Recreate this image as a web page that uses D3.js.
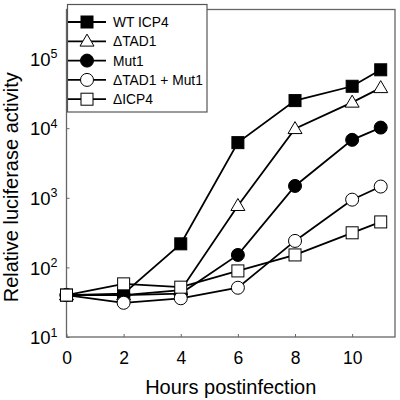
<!DOCTYPE html>
<html><head><meta charset="utf-8">
<script src="https://cdn.jsdelivr.net/npm/d3@7"></script>
<style>body{margin:0;background:#fff;} svg{display:block;font-family:"Liberation Sans",Arial,sans-serif;}</style>
</head><body><svg id="c" width="400" height="400"></svg>
<script>
const hours = [0, 2, 4, 6, 8, 10, 11];
const wtICP4 = [40, 42, 218, 6200, 24900, 40000, 69000];
const dTAD1 = [40, 40, 47, 770, 9800, 23500, 38000];
const mut1 = [40, 40, 42, 151, 1480, 6800, 10200];
const dTAD1Mut1 = [40, 31, 36, 51, 240, 940, 1450];
const dICP4 = [40, 58, 52, 89, 151, 314, 450];
const seriesNames = ["WT ICP4", "\u0394TAD1", "Mut1", "\u0394TAD1 + Mut1", "\u0394ICP4"];
const xTicks = [0, 2, 4, 6, 8, 10];
const yTickExps = [1, 2, 3, 4, 5];

const series = [
  {name: seriesNames[0], values: wtICP4, shape: "square", fill: "#000"},
  {name: seriesNames[1], values: dTAD1, shape: "triangle", fill: "#fff"},
  {name: seriesNames[2], values: mut1, shape: "circle", fill: "#000"},
  {name: seriesNames[3], values: dTAD1Mut1, shape: "circle", fill: "#fff"},
  {name: seriesNames[4], values: dICP4, shape: "square", fill: "#fff"}
];

const svg = d3.select("#c");
const L = 66.5, R = 395, T = 9.5, B = 337;
const x = d3.scaleLinear().domain([0, 11.5]).range([L, R]);
const y = d3.scaleLog().domain([10, Math.pow(10, 5.705)]).range([B, T]);

// frame
svg.append("rect").attr("x", L).attr("y", T).attr("width", R - L).attr("height", B - T)
  .attr("fill", "none").attr("stroke", "#666").attr("stroke-width", 1.3);

// axes with inward ticks
const xAxis = svg.append("g").attr("transform", `translate(0,${B})`)
  .call(d3.axisBottom(x).tickValues(xTicks).tickSizeInner(-3).tickSizeOuter(0).tickPadding(15));
xAxis.select(".domain").remove();
xAxis.selectAll("line").attr("stroke", "#666");
xAxis.selectAll("text").attr("font-size", 17.5).attr("fill", "#000").attr("font-family", "Liberation Sans, Arial, sans-serif");

const yAxis = svg.append("g").attr("transform", `translate(${L},0)`)
  .call(d3.axisLeft(y).tickValues(yTickExps.map(e => Math.pow(10, e))).tickSizeInner(-3).tickSizeOuter(0).tickFormat(() => ""));
yAxis.select(".domain").remove();
yAxis.selectAll("line").attr("stroke", "#666");
yAxis.selectAll(".tick").each(function(d) {
  const t = d3.select(this).select("text").text(null)
    .attr("x", -9).attr("dy", "0.36em").attr("text-anchor", "end")
    .attr("font-size", 18.5).attr("fill", "#000").attr("font-family", "Liberation Sans, Arial, sans-serif");
  t.append("tspan").text("10");
  t.append("tspan").attr("font-size", 12.5).attr("dy", "-0.6em").text(Math.round(Math.log10(d)));
});

// titles
svg.append("text").attr("x", (L + R) / 2).attr("y", 394).attr("text-anchor", "middle")
  .attr("font-size", 20).text("Hours postinfection");
svg.append("text").attr("transform", `translate(18,${(T + B) / 2 + 14}) rotate(-90)`).attr("text-anchor", "middle")
  .attr("font-size", 20).text("Relative luciferase activity");

function marker(g, shape, fill, cx, cy) {
  if (shape === "square") {
    g.append("rect").attr("x", cx - 6).attr("y", cy - 6).attr("width", 12).attr("height", 12)
      .attr("fill", fill).attr("stroke", "#000").attr("stroke-width", 1);
  } else if (shape === "circle") {
    g.append("circle").attr("cx", cx).attr("cy", cy).attr("r", 6.5)
      .attr("fill", fill).attr("stroke", "#000").attr("stroke-width", 1);
  } else {
    const h = 12, w = 14;
    g.append("path").attr("d", `M${cx},${cy - h * 0.6}L${cx + w / 2},${cy + h * 0.4}L${cx - w / 2},${cy + h * 0.4}Z`)
      .attr("fill", fill).attr("stroke", "#000").attr("stroke-width", 1);
  }
}

const line = d3.line().x((d, i) => x(hours[i])).y(d => y(d));
series.forEach(s => {
  const g = svg.append("g");
  g.append("path").datum(s.values).attr("d", line).attr("fill", "none").attr("stroke", "#000").attr("stroke-width", 1.8);
  s.values.forEach((v, i) => marker(g, s.shape, s.fill, x(hours[i]), y(v)));
});

// legend
const lg = svg.append("g");
lg.append("rect").attr("x", 67.5).attr("y", 4.5).attr("width", 139.5).attr("height", 107.5)
  .attr("fill", "#fff").attr("stroke", "#555").attr("stroke-width", 1.2);
series.forEach((s, i) => {
  const cy = 22 + i * 19.3;
  lg.append("line").attr("x1", 68).attr("x2", 106).attr("y1", cy).attr("y2", cy).attr("stroke", "#000").attr("stroke-width", 1.8);
  marker(lg, s.shape, s.fill, 87, cy);
  lg.append("text").attr("x", 113).attr("y", cy).attr("dy", "0.36em").attr("font-size", 13.8).text(s.name);
});
</script></body></html>
